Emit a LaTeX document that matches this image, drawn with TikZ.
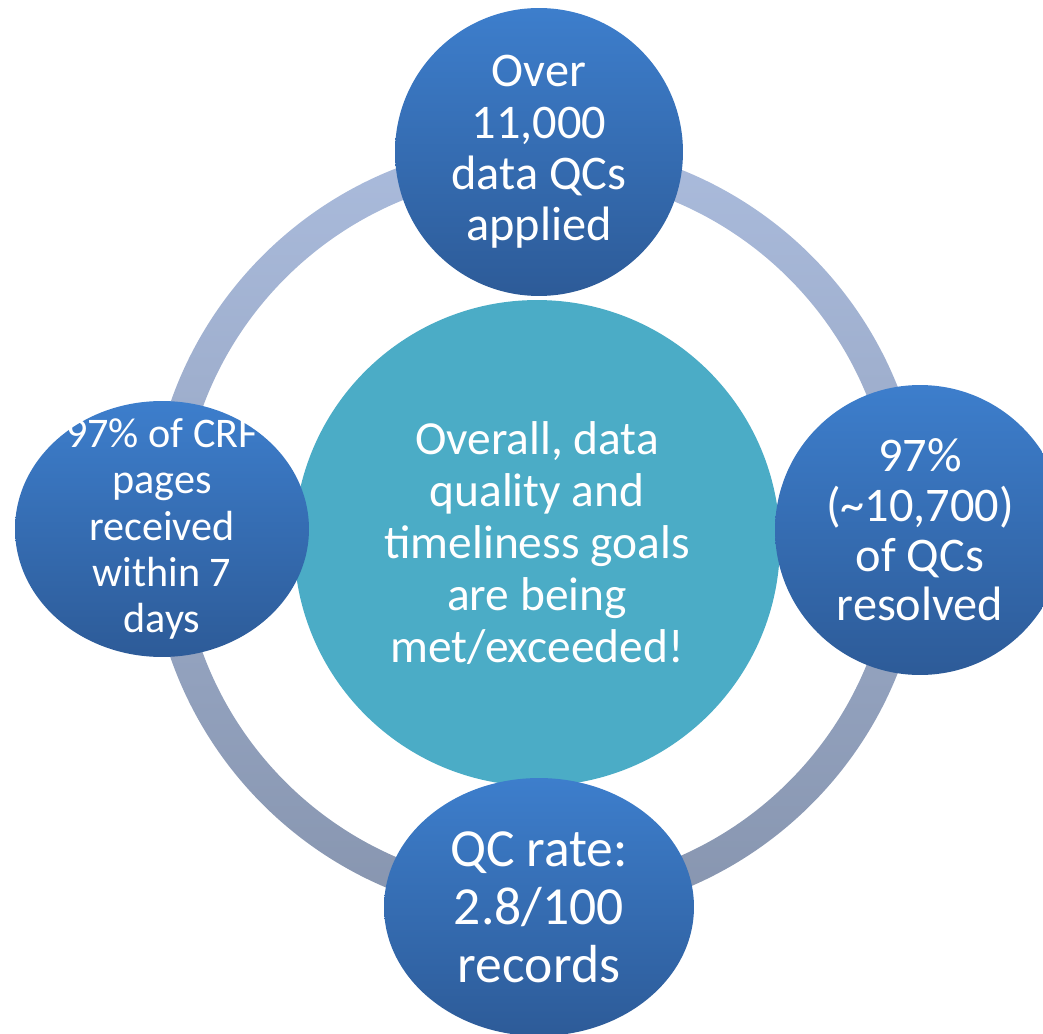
\documentclass[tikz,border=0pt]{standalone}
\usepackage{fontspec}
\setmainfont{Carlito}
\usepackage{tikz}
\usetikzlibrary{shapes.geometric,positioning}
\definecolor{bubtop}{HTML}{3D7ECC}
\definecolor{bubbot}{HTML}{2D5B98}
\definecolor{hubcol}{HTML}{4BACC6}
\definecolor{ringtop}{HTML}{AABBDC}
\definecolor{ringbot}{HTML}{8795AF}
\tikzset{bubble/.style={ellipse,draw=none,top color=bubtop,bottom color=bubbot,inner sep=0pt},
         hub/.style={circle,draw=none,fill=hubcol,inner sep=0pt},
         txt/.style={text=white,align=center,inner sep=0pt}
}

\begin{document}
\begin{tikzpicture}[x=0.02cm,y=-0.02cm]
      \clip (0,0) rectangle (1043,1033);
      % ring behind everything
      \coordinate (rc) at (537,530);
      \shade[top color=ringtop,bottom color=ringbot,even odd rule]
            (rc) circle (388) (rc) circle (356);
      \node[hub, minimum size=9.72cm] (H) at (537,543) {};
      \node[bubble, minimum width=5.76cm, minimum height=5.76cm] (T) at (539,152) {};
      \node[bubble, minimum width=5.88cm, minimum height=5.12cm] (L) at (162,529) {};
      \node[bubble, minimum width=5.8cm, minimum height=5.8cm] (R) at (920,530) {};
      \node[bubble, minimum width=6.2cm, minimum height=5.16cm] (B) at (539,907) {};
      \node[txt, font=\fontsize{27}{29.5}\selectfont] at (H) {Overall, data\\quality and\\timeliness goals\\are being\\met/exceeded!};
      \node[txt, font=\fontsize{27.5}{29.3}\selectfont] at (T) {Over\\11,000\\data QCs\\applied};
      \node[txt, font=\fontsize{24}{26.4}\selectfont] at (L) {97\% of CRF\\pages\\received\\within 7\\days};
      \node[txt, font=\fontsize{27.5}{28.3}\selectfont] at (R) {97\%\\(\textasciitilde10,700)\\of QCs\\resolved};
      \node[txt, font=\fontsize{30.5}{32.9}\selectfont] at (B) {QC rate:\\2.8/100\\records};
\end{tikzpicture}
\end{document}
